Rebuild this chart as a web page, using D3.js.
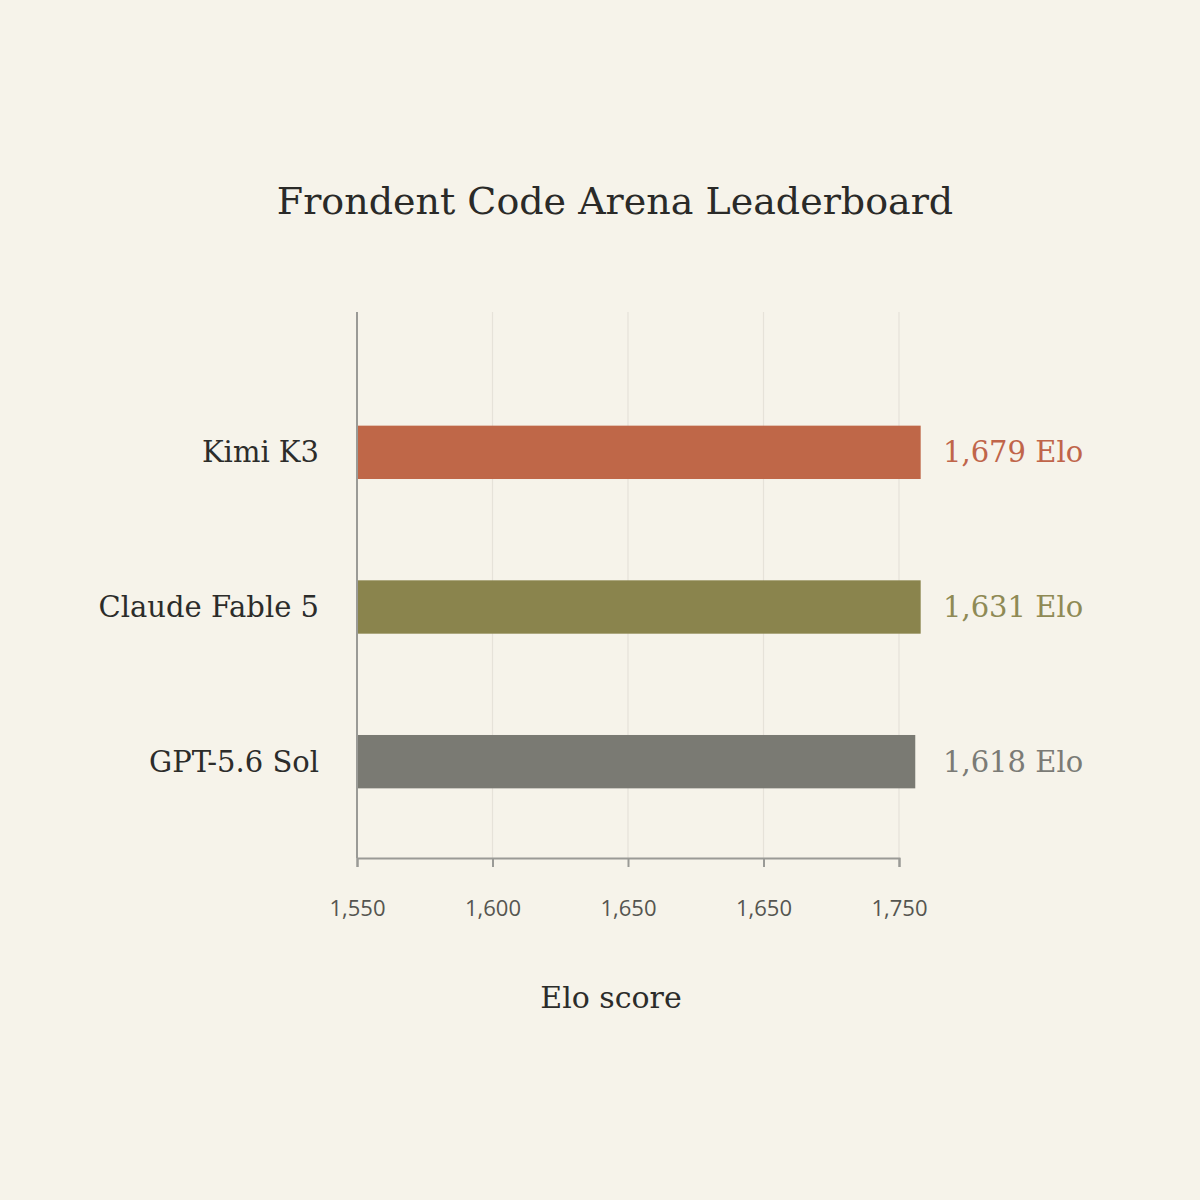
<!DOCTYPE html>
<html>
<head>
<meta charset="utf-8">
<script src="https://cdn.jsdelivr.net/npm/d3@7"></script>
<style>
  html, body { margin: 0; padding: 0; background: #f6f3ea; }
  svg { display: block; }
</style>
</head>
<body>
<svg id="chart" width="1200" height="1200"></svg>
<script>
// ---- data ----
const categories = ["Kimi K3", "Claude Fable 5", "GPT-5.6 Sol"];
// bar lengths as drawn, in axis units
const barValues = [1758, 1758, 1756];
// value labels as printed beside each bar
const valueLabels = ["1,679 Elo", "1,631 Elo", "1,618 Elo"];
const barColors = ["#bf6748", "#8a844d", "#7a7a73"];
const labelColors = ["#c0654a", "#8f8a55", "#7b7b76"];
// axis ticks and the labels printed under them
const tickValues = [1550, 1600, 1650, 1700, 1750];
const tickLabels = ["1,550", "1,600", "1,650", "1,650", "1,750"];
const titleText = "Frondent Code Arena Leaderboard";
const xAxisTitle = "Elo score";

// ---- layout ----
const svg = d3.select("#chart");
const serif = "'DejaVu Serif', 'Liberation Serif', serif";
const sans = "'Open Sans', 'Noto Sans', sans-serif";

svg.append("rect").attr("width", 1200).attr("height", 1200).attr("fill", "#f6f3ea");

const plotTop = 312, plotBottom = 858;
const x = d3.scaleLinear().domain([1550, 1750]).range([357, 899]);
const y = d3.scaleBand().domain(categories).range([375, 839])
  .paddingInner(0.655).paddingOuter(0.3275);

// gridlines
svg.append("g").selectAll("line")
  .data(tickValues.slice(1))
  .join("line")
  .attr("x1", d => x(d)).attr("x2", d => x(d))
  .attr("y1", plotTop).attr("y2", plotBottom)
  .attr("stroke", "#e6e2d9").attr("stroke-width", 1.2);

// bars
svg.append("g").selectAll("rect")
  .data(categories)
  .join("rect")
  .attr("x", x(1550))
  .attr("y", d => y(d))
  .attr("width", (d, i) => x(barValues[i]) - x(1550))
  .attr("height", y.bandwidth())
  .attr("fill", (d, i) => barColors[i]);

// y axis line
svg.append("line")
  .attr("x1", x(1550)).attr("x2", x(1550))
  .attr("y1", plotTop).attr("y2", plotBottom)
  .attr("stroke", "#9a9a96").attr("stroke-width", 2);

// x axis
const xAxis = d3.axisBottom(x)
  .tickValues(tickValues)
  .tickFormat((d, i) => tickLabels[i])
  .tickSize(9)
  .tickPadding(33);
const gx = svg.append("g").attr("transform", `translate(0,${plotBottom})`).call(xAxis);
gx.select(".domain").attr("stroke", "#9a9a96").attr("stroke-width", 2);
gx.selectAll(".tick line").attr("stroke", "#9a9a96").attr("stroke-width", 2);
gx.selectAll(".tick text")
  .attr("font-family", sans).attr("font-size", 22).attr("fill", "#555550");

// category labels
svg.append("g").selectAll("text")
  .data(categories)
  .join("text")
  .attr("x", 319)
  .attr("y", d => y(d) + y.bandwidth() / 2)
  .attr("dy", "0.35em")
  .attr("text-anchor", "end")
  .attr("font-family", serif).attr("font-size", 29)
  .attr("fill", "#2c2c2a")
  .text(d => d);

// value labels
svg.append("g").selectAll("text")
  .data(categories)
  .join("text")
  .attr("x", 943)
  .attr("y", d => y(d) + y.bandwidth() / 2)
  .attr("dy", "0.35em")
  .attr("text-anchor", "start")
  .attr("font-family", serif).attr("font-size", 29)
  .attr("fill", (d, i) => labelColors[i])
  .text((d, i) => valueLabels[i]);

// title
svg.append("text")
  .attr("x", 615).attr("y", 214)
  .attr("text-anchor", "middle")
  .attr("font-family", serif).attr("font-size", 38)
  .attr("fill", "#2a2a28")
  .text(titleText);

// axis title
svg.append("text")
  .attr("x", 611).attr("y", 1008)
  .attr("text-anchor", "middle")
  .attr("font-family", serif).attr("font-size", 30)
  .attr("fill", "#2c2c2a")
  .text(xAxisTitle);
</script>
</body>
</html>
